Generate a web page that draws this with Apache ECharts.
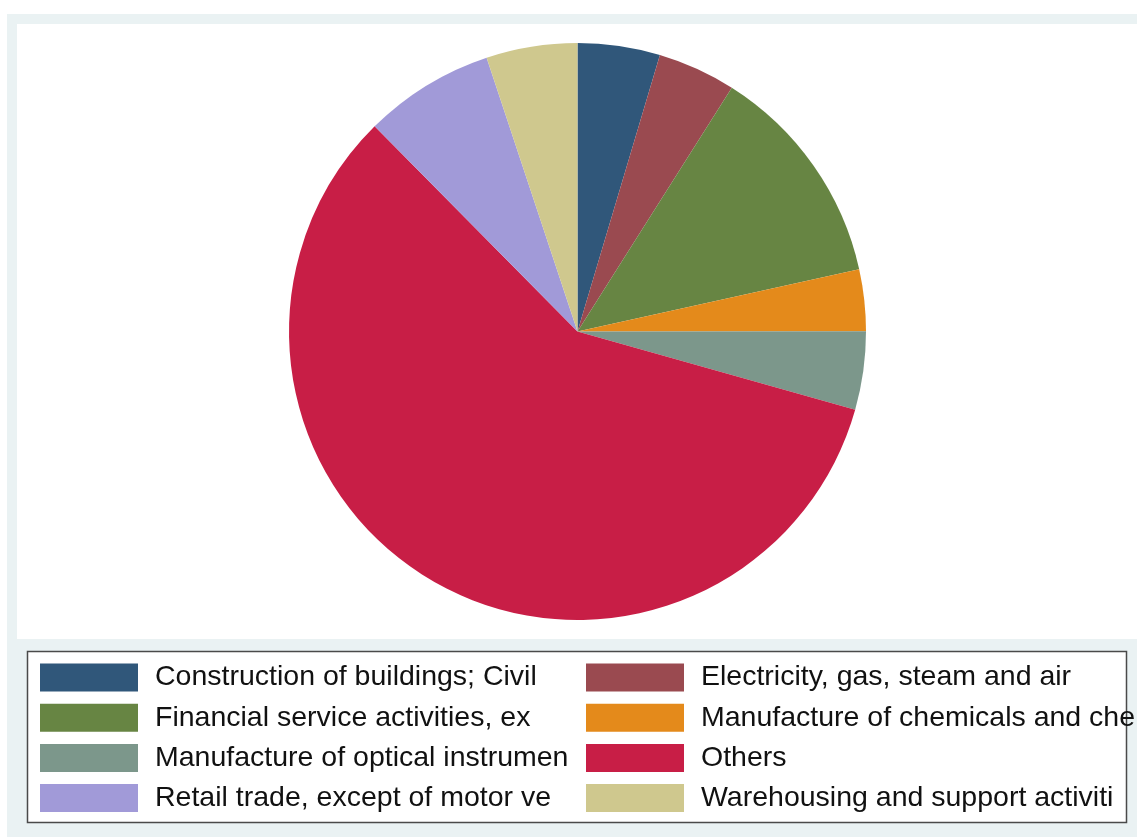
<!DOCTYPE html>
<html>
<head>
<meta charset="utf-8">
<title>Sector shares</title>
<script src="https://cdn.jsdelivr.net/npm/echarts@6/dist/echarts.min.js"></script>
<style>
  html, body { margin: 0; padding: 0; background: #ffffff; }
  #chart { width: 1137px; height: 837px; }
</style>
</head>
<body>
<div id="chart"></div>
<script>
// Sector labels (as truncated in the legend)
const categories = [
  'Construction of buildings; Civil',
  'Electricity, gas, steam and air',
  'Financial service activities, ex',
  'Manufacture of chemicals and che',
  'Manufacture of optical instrumen',
  'Others',
  'Retail trade, except of motor ve',
  'Warehousing and support activiti'
];

// Share of each sector (percent)
const shares = [4.61, 4.37, 12.55, 3.46, 4.38, 58.21, 7.31, 5.10];

// Slice colours
const colors = ['#30577a', '#9a4a50', '#678543', '#e48a1b', '#7c978b', '#c81e46', '#a19ad8', '#cfc88e'];

const chart = echarts.init(document.getElementById('chart'), null, { renderer: 'canvas' });

const pieData = categories.map((name, i) => ({
  name: name,
  value: shares[i],
  itemStyle: { color: colors[i] }
}));

const legendText = {
  fontFamily: 'Liberation Sans, Arial, sans-serif',
  fontSize: 28.5,
  color: '#111111',
  lineHeight: 28,
  padding: [0, 0, 0, 12]
};

function makeLegend(names, left) {
  return {
    orient: 'vertical',
    left: left,
    top: 663,
    padding: 0,
    itemWidth: 98,
    itemHeight: 28,
    itemGap: 11.2,
    icon: 'rect',
    selectedMode: false,
    data: names,
    textStyle: legendText,
    itemStyle: { borderWidth: 0 }
  };
}

const option = {
  animation: false,
  backgroundColor: '#ffffff',
  graphic: {
    elements: [
      { type: 'rect', shape: { x: 7, y: 14, width: 1130, height: 823 }, style: { fill: '#eaf2f3' }, z: 0 },
      { type: 'rect', shape: { x: 17, y: 24, width: 1120, height: 615 }, style: { fill: '#ffffff' }, z: 1 },
      { type: 'rect', shape: { x: 27.5, y: 651.5, width: 1099, height: 171 }, style: { fill: '#ffffff', stroke: '#4a4a4a', lineWidth: 1.5 }, z: 1 }
    ]
  },
  legend: [
    makeLegend([categories[0], categories[2], categories[4], categories[6]], 40),
    makeLegend([categories[1], categories[3], categories[5], categories[7]], 586)
  ],
  series: [{
    type: 'pie',
    center: [577.5, 331.5],
    radius: 288.5,
    startAngle: 90,
    clockwise: true,
    minAngle: 0,
    avoidLabelOverlap: false,
    label: { show: false },
    labelLine: { show: false },
    emphasis: { disabled: true },
    itemStyle: { borderWidth: 0 },
    data: pieData
  }]
};

chart.setOption(option);
</script>
</body>
</html>
